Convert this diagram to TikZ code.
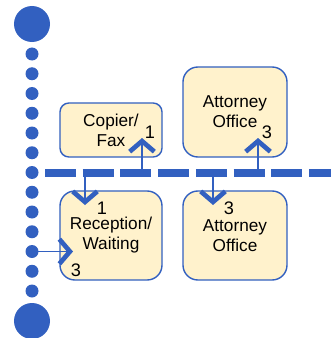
\documentclass[tikz,border=0pt]{standalone}
\usepackage{fontspec}
\setmainfont{Liberation Sans}
\usetikzlibrary{arrows.meta}
\definecolor{planblue}{RGB}{50,96,192}
\definecolor{roomfill}{RGB}{255,242,204}

\begin{document}
\begin{tikzpicture}[x=0.03cm, y=-0.03cm,
    room/.style={draw=planblue, line width=1.2pt, fill=roomfill, align=center, inner sep=0pt,
        font=\fontsize{14.7}{17}\selectfont},
    count/.style={inner sep=0pt, font=\fontsize{15.5}{15.5}\selectfont},
    dot/.style={circle, fill=planblue, inner sep=0pt, minimum size=0.39cm},
    flow/.style={planblue, line width=1.7pt,
        -{Straight Barb[length=9pt, width=21pt, line width=4pt, sharp]}}]
    \useasboundingbox (0,0) rectangle (331,338);
    % --- left: circulation spine (dotted) ---
    \node[dot, minimum size=1.08cm] (top) at (32,24) {};
    \node[dot, minimum size=1.08cm] (bottom) at (32,321) {};
    \foreach \i in {0,...,12}
        \node[dot] (d\i) at (32, {54+19.75*\i}) {};
    % --- middle: corridor (dashed) ---
    \coordinate (hl) at (45,173);
    \coordinate (hr) at (331,173);
    \draw[planblue, line width=6.8pt, dash pattern=on 26.4pt off 5.8pt] (hl) -- (hr);
    % --- rooms above the corridor ---
    \node[room, minimum width=3.06cm, minimum height=1.62cm, rounded corners=7.6pt] (copier) at (111,130) {Copier/\\Fax};
    \node[room, minimum width=3.12cm, minimum height=2.7cm, rounded corners=12.7pt] (office) at (235,112) {Attorney\\Office};
    % --- rooms below the corridor ---
    \node[room, minimum width=3.06cm, minimum height=2.67cm, rounded corners=12.7pt] (reception) at (111,235.5) {Reception/\\Waiting};
    \node[room, minimum width=3.12cm, minimum height=2.67cm, rounded corners=12.7pt] (office2) at (235,235.5) {Attorney\\Office};
    % --- counts ---
    \node[count] (copierno) at (150,132) {1};
    \node[count] (officeno) at (267,132) {3};
    \node[count] (receptno) at (102,208) {1};
    \node[count] (receptno2) at (76,270) {3};
    \node[count] (officeno2) at (229,208) {3};
    % --- access arrows ---
    \coordinate (copierout) at (142,173);
    \coordinate (copierin) at (142,138);
    \coordinate (officeout) at (258,173);
    \coordinate (officein) at (258,138);
    \coordinate (receptout) at (85,173);
    \coordinate (receptin) at (85,205);
    \coordinate (office2out) at (213,173);
    \coordinate (office2in) at (213,205);
    \coordinate (receptside) at (73,251.5);
    \draw[flow] (copierout) -- (copierin);
    \draw[flow] (officeout) -- (officein);
    \draw[flow] (receptout) -- (receptin);
    \draw[flow] (office2out) -- (office2in);
    \draw[flow] (d10.center) -- (receptside);
\end{tikzpicture}
\end{document}
